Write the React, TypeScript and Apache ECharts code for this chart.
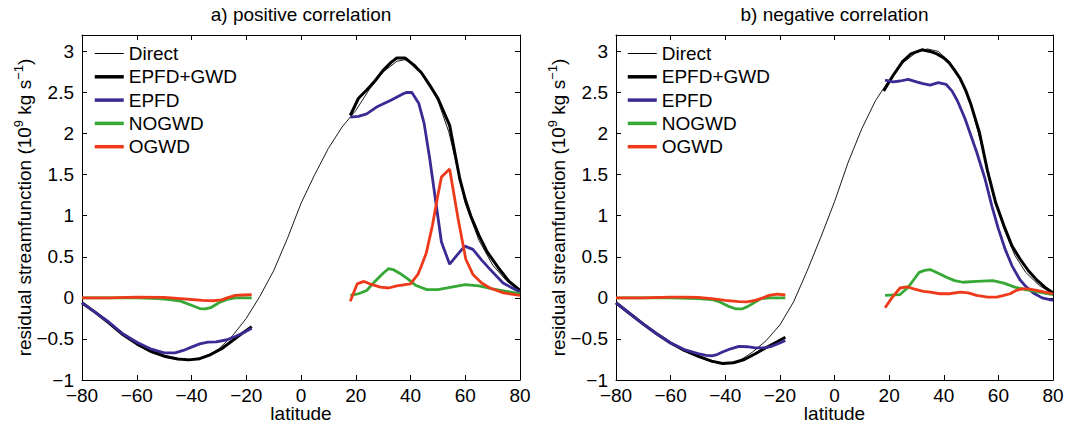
import React, { useEffect, useRef } from 'react';
import * as echarts from 'echarts';

// ---------- data (latitude, residual streamfunction 10^9 kg/s) ----------
const names = ['Direct', 'EPFD+GWD', 'EPFD', 'NOGWD', 'OGWD'];
const colors = ['#000000', '#000000', '#3b2a94', '#36a836', '#ee3a1a'];
const widths = [0.9, 3, 2.8, 2.8, 2.8];

// panel a) positive correlation
const directA_lat = [-80,-75,-70,-65,-60,-55,-50,-45,-40,-35,-30,-25,-20,-15,-10,-5,0,5,10,15,20,25,30,35,38,42,46,50,54,57,60,65,70,75,80];
const directA = [-0.06,-0.18,-0.30,-0.43,-0.53,-0.63,-0.70,-0.74,-0.75,-0.72,-0.62,-0.46,-0.25,0.02,0.33,0.72,1.15,1.50,1.82,2.08,2.28,2.54,2.75,2.88,2.90,2.83,2.65,2.40,2.02,1.60,1.15,0.70,0.40,0.21,0.08];

const gwdA_S_lat = [-80,-75,-70,-65,-60,-55,-50,-45,-41,-37,-33,-29,-25,-21,-18];
const gwdA_S = [-0.06,-0.18,-0.31,-0.45,-0.56,-0.65,-0.71,-0.745,-0.755,-0.74,-0.69,-0.62,-0.52,-0.42,-0.35];
const gwdA_N_lat = [18,21,24,27,30,33,35,38,41,44,47,50,54.3,56,58,60,62,65,68,72,76,80];
const gwdA_N = [2.22,2.43,2.53,2.64,2.77,2.87,2.92,2.92,2.84,2.74,2.59,2.43,2.10,1.80,1.45,1.20,1.00,0.76,0.56,0.37,0.20,0.09];

const epfdA_S_lat = [-80,-75,-70,-65,-60,-55,-50,-46,-43,-40,-37,-34,-31,-27,-24,-21,-18];
const epfdA_S = [-0.06,-0.18,-0.30,-0.44,-0.54,-0.62,-0.67,-0.67,-0.64,-0.60,-0.56,-0.54,-0.535,-0.51,-0.47,-0.425,-0.37];
const epfdA_N_lat = [18,21,24,28,33,37,38.5,40.5,43,45,47,51.3,54.3,57,59.8,62.8,66,69,73.8,80];
const epfdA_N = [2.20,2.21,2.24,2.33,2.41,2.48,2.50,2.50,2.37,2.12,1.70,0.68,0.41,0.52,0.63,0.59,0.46,0.35,0.18,0.07];

const nogA_S_lat = [-80,-70,-60,-52,-48,-44,-40,-37,-35,-33,-30,-27,-24,-18];
const nogA_S = [0,0,0,-0.01,-0.02,-0.04,-0.09,-0.13,-0.135,-0.12,-0.06,-0.02,0,0];
const nogA_N_lat = [18,21,24,27,30,32,34,36,39,42,46,50,55,60,65,70,75,80];
const nogA_N = [0.03,0.05,0.09,0.20,0.30,0.355,0.34,0.30,0.23,0.15,0.10,0.10,0.13,0.16,0.145,0.11,0.08,0.05];

const ogA_S_lat = [-80,-70,-60,-50,-44,-40,-36,-32,-29,-27,-24,-21,-18];
const ogA_S = [0,0,0.01,0.005,-0.01,-0.02,-0.03,-0.035,-0.025,0,0.03,0.035,0.04];
const ogA_N_lat = [18,20.5,23,26,29,32,35,38,40,42.7,44,45.8,48,50,51.3,54.3,57.4,60.2,62.8,66,69,74,80];
const ogA_N = [-0.04,0.17,0.20,0.16,0.13,0.12,0.145,0.16,0.17,0.285,0.39,0.55,0.88,1.25,1.47,1.57,0.96,0.47,0.285,0.18,0.12,0.06,0.03];

// panel b) negative correlation
const directB_lat = [-80,-75,-70,-65,-60,-55,-50,-45,-40,-35,-30,-25,-20,-15,-10,-5,0,5,10,15,20,25,30,34,38,42,46,50,54,58,62,66,70,75,80];
const directB = [-0.06,-0.19,-0.32,-0.44,-0.55,-0.64,-0.72,-0.78,-0.80,-0.77,-0.66,-0.52,-0.33,-0.05,0.33,0.74,1.17,1.65,2.06,2.40,2.65,2.86,2.99,3.03,3.00,2.88,2.68,2.33,1.85,1.28,0.85,0.52,0.31,0.15,0.05];

const gwdB_S_lat = [-80,-75,-70,-65,-60,-55,-50,-45,-41,-37,-33,-29,-25,-21,-18];
const gwdB_S = [-0.06,-0.19,-0.32,-0.44,-0.55,-0.64,-0.71,-0.77,-0.80,-0.79,-0.75,-0.68,-0.605,-0.535,-0.48];
const gwdB_N_lat = [18,21.5,25,28,32,35,37.5,40,42,44,46,48,50,53,56,59,62,65,68,71,74,77,80];
const gwdB_N = [2.52,2.71,2.88,2.97,3.02,3.00,2.97,2.92,2.86,2.77,2.67,2.53,2.35,2.02,1.55,1.16,0.88,0.63,0.47,0.33,0.22,0.13,0.06];

const epfdB_S_lat = [-80,-75,-70,-65,-60,-55,-50,-47,-45,-43,-41,-38,-35,-32,-29,-26,-23,-20,-18];
const epfdB_S = [-0.06,-0.19,-0.32,-0.44,-0.55,-0.63,-0.68,-0.70,-0.705,-0.69,-0.66,-0.62,-0.59,-0.595,-0.61,-0.61,-0.59,-0.55,-0.52];
const epfdB_N_lat = [18.5,21.5,24,27,30,32,35,38,40.8,43,45,47.8,50,52.1,55.1,57.6,60,62.5,65,67.9,70,72.8,76,80];
const epfdB_N = [2.65,2.63,2.64,2.66,2.63,2.61,2.59,2.62,2.60,2.52,2.40,2.18,1.97,1.77,1.45,1.12,0.84,0.59,0.39,0.22,0.14,0.06,0.0,-0.03];

const nogB_S_lat = [-80,-70,-60,-50,-45,-42,-39,-36,-34,-32,-30,-27,-24,-18];
const nogB_S = [0,0,0,-0.01,-0.02,-0.05,-0.10,-0.135,-0.135,-0.11,-0.07,-0.01,0,0];
const nogB_N_lat = [18.5,24,27,29,31,33,35,38,41,44,47,52,58,62,66,70,75,80];
const nogB_N = [0.03,0.04,0.13,0.22,0.31,0.335,0.345,0.30,0.25,0.21,0.19,0.20,0.21,0.18,0.13,0.10,0.07,0.04];

const ogB_S_lat = [-80,-70,-60,-55,-50,-45,-40,-35,-32,-29,-27,-24,-21,-18];
const ogB_S = [0,0,0.01,0.01,0.005,-0.01,-0.03,-0.045,-0.05,-0.03,-0.01,0.03,0.045,0.035];
const ogB_N_lat = [18.5,21,24,26.5,29,32.5,35,38.6,42,46,49,52,56,59.4,62,64.3,66.5,68.6,71,74,77,80];
const ogB_N = [-0.12,0.0,0.12,0.135,0.11,0.08,0.07,0.05,0.05,0.07,0.06,0.03,0.01,0.01,0.03,0.05,0.09,0.11,0.11,0.09,0.07,0.05];

const xTickInterval = 20;
const yTickInterval = 0.5;
const titles = ['a) positive correlation', 'b) negative correlation'];

// ---------- chart ----------
const FONT = 'Liberation Sans, Arial, Helvetica, sans-serif';
const minus = (s: string) => s.replace('-', '\u2212');

function line(name: string, lat: number[], val: number[], panel: number) {
  const k = names.indexOf(name);
  return {
    type: 'line',
    name,
    xAxisIndex: panel * 2,
    yAxisIndex: panel * 2,
    data: lat.map((x, i) => [x, val[i]]),
    symbol: 'none',
    showSymbol: false,
    smooth: false,
    clip: true,
    lineStyle: { color: colors[k], width: widths[k] },
    itemStyle: { color: colors[k] },
    z: 2 + k,
  };
}

const grids = [
  { left: 82, top: 35, width: 438, height: 345, containLabel: false, outerBoundsMode: 'none' },
  { left: 616, top: 35, width: 437, height: 345, containLabel: false, outerBoundsMode: 'none' },
];

function axesFor(panel: number) {
  const axisLine = { show: true, onZero: false, lineStyle: { color: '#000', width: 1 } };
  const tick = { show: true, inside: true, length: 5, lineStyle: { color: '#000', width: 1 } };
  const xs = [
    {
      type: 'value', gridIndex: panel, min: -80, max: 80, interval: xTickInterval, position: 'bottom',
      axisLine, axisTick: tick, splitLine: { show: false },
      axisLabel: { color: '#000', fontSize: 19, lineHeight: 15, fontFamily: FONT, margin: 8, formatter: (v: number) => minus(String(v)) },
      name: 'latitude', nameLocation: 'middle', nameGap: 26, nameMoveOverlap: false,
      nameTextStyle: { color: '#000', fontSize: 19, lineHeight: 15, fontFamily: FONT },
    },
    {
      type: 'value', gridIndex: panel, min: -80, max: 80, interval: xTickInterval, position: 'top',
      axisLine, axisTick: tick, splitLine: { show: false }, axisLabel: { show: false },
      name: titles[panel], nameLocation: 'middle', nameGap: 11, nameMoveOverlap: false,
      nameTextStyle: { color: '#000', fontSize: 19, fontFamily: FONT },
    },
  ];
  const yFmt = (v: number) => {
    if (Math.abs(v * 2 - Math.round(v * 2)) > 1e-6) return '';
    return minus(String(Math.round(v * 10) / 10));
  };
  const ys = [
    {
      type: 'value', gridIndex: panel, min: -1, max: 3.2, interval: yTickInterval, position: 'left',
      axisLine, axisTick: tick, splitLine: { show: false },
      axisLabel: { color: '#000', fontSize: 19, lineHeight: 15, fontFamily: FONT, margin: 8, formatter: yFmt },
      name: '{n|residual streamfunction (10}{s|9}{n| kg s}{s|\u22121}{n|)}',
      nameLocation: 'middle', nameGap: 46, nameRotate: 90, nameMoveOverlap: false,
      nameTextStyle: {
        color: '#000', fontSize: 19, fontFamily: FONT,
        rich: {
          n: { fontSize: 19, fontFamily: FONT, color: '#000', lineHeight: 24 },
          s: { fontSize: 13, fontFamily: FONT, color: '#000', verticalAlign: 'top', lineHeight: 15 },
        },
      },
    },
    {
      type: 'value', gridIndex: panel, min: -1, max: 3.2, interval: yTickInterval, position: 'right',
      axisLine, axisTick: tick, splitLine: { show: false }, axisLabel: { show: false },
    },
  ];
  return { xs, ys };
}

function buildOption() {
  const a = axesFor(0);
  const b = axesFor(1);
  const series: any[] = [
    line('Direct', directA_lat, directA, 0),
    line('EPFD+GWD', gwdA_S_lat, gwdA_S, 0),
    line('EPFD+GWD', gwdA_N_lat, gwdA_N, 0),
    line('EPFD', epfdA_S_lat, epfdA_S, 0),
    line('EPFD', epfdA_N_lat, epfdA_N, 0),
    line('NOGWD', nogA_S_lat, nogA_S, 0),
    line('NOGWD', nogA_N_lat, nogA_N, 0),
    line('OGWD', ogA_S_lat, ogA_S, 0),
    line('OGWD', ogA_N_lat, ogA_N, 0),
    line('Direct', directB_lat, directB, 1),
    line('EPFD+GWD', gwdB_S_lat, gwdB_S, 1),
    line('EPFD+GWD', gwdB_N_lat, gwdB_N, 1),
    line('EPFD', epfdB_S_lat, epfdB_S, 1),
    line('EPFD', epfdB_N_lat, epfdB_N, 1),
    line('NOGWD', nogB_S_lat, nogB_S, 1),
    line('NOGWD', nogB_N_lat, nogB_N, 1),
    line('OGWD', ogB_S_lat, ogB_S, 1),
    line('OGWD', ogB_N_lat, ogB_N, 1),
  ];
  const legendData = names.map((n, k) => ({
    name: n,
    lineStyle: { color: colors[k], width: k === 0 ? 1 : 3.5 },
  }));
  const legendBase = {
    orient: 'vertical', top: 44, itemWidth: 29, itemHeight: 14, itemGap: 4.3, padding: 0,
    selectedMode: false, data: legendData,
    itemStyle: { opacity: 0, color: 'rgba(0,0,0,0)', borderWidth: 0 },
    textStyle: { color: '#000', fontSize: 19, fontFamily: FONT },
  };
  return {
    animation: false,
    backgroundColor: '#fff',
    grid: grids,
    xAxis: [...a.xs, ...b.xs],
    yAxis: [...a.ys, ...b.ys],
    legend: [
      { ...legendBase, left: 93 },
      { ...legendBase, left: 626 },
    ],
    series,
  };
}

export default function App() {
  const ref = useRef<HTMLDivElement>(null);
  useEffect(() => {
    if (!ref.current) return;
    const chart = echarts.init(ref.current, undefined, { renderer: 'svg' });
    chart.setOption(buildOption() as any);
    return () => chart.dispose();
  }, []);
  return (
    <div
      ref={ref}
      style={{ position: 'absolute', left: 0, top: 0, width: 1066, height: 425, background: '#fff' }}
    />
  );
}
